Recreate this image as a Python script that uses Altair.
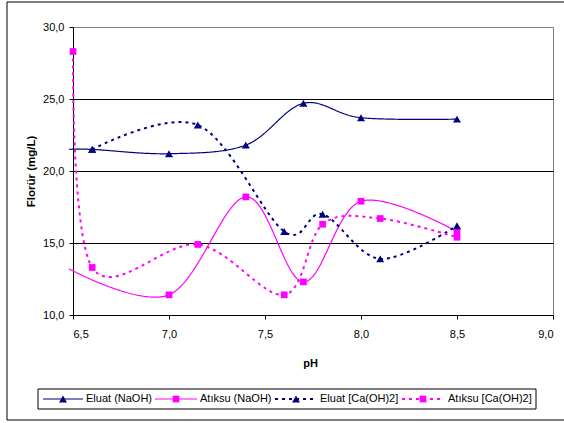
import altair as alt
import pandas as pd

# ---- data ----
series_names = ["Eluat (NaOH)", "Atıksu (NaOH)", "Eluat [Ca(OH)2]", "Atıksu [Ca(OH)2]"]

ph_eluat_naoh = [6.48, 6.6, 7.0, 7.4, 7.7, 8.0, 8.5]
eluat_naoh = [21.5, 21.5, 21.2, 21.8, 24.7, 23.7, 23.6]
mark_eluat_naoh = [False, True, True, True, True, True, True]

ph_atiksu_naoh = [6.48, 7.0, 7.4, 7.7, 8.0, 8.5]
atiksu_naoh = [13.2, 11.4, 18.2, 12.3, 17.9, 15.8]
mark_atiksu_naoh = [False, True, True, True, True, True]

ph_eluat_ca = [6.6, 7.15, 7.6, 7.8, 8.1, 8.5]
eluat_ca = [21.5, 23.2, 15.8, 17.0, 13.9, 16.2]
mark_eluat_ca = [True, True, True, True, True, True]

ph_atiksu_ca = [6.5, 6.6, 7.15, 7.6, 7.8, 8.1, 8.5]
atiksu_ca = [28.3, 13.3, 14.9, 11.4, 16.3, 16.7, 15.4]
mark_atiksu_ca = [True, True, True, True, True, True, True]

x_ticks = [6.5, 7.0, 7.5, 8.0, 8.5, 9.0]
y_ticks = [10, 15, 20, 25, 30]

colors = ["#000080", "#FF00FF", "#000080", "#FF00FF"]
dashes = [[1, 0], [1, 0], [3, 4], [3, 4]]
widths = [1.2, 1.2, 2, 2]
shapes = ["triangle-up", "square", "triangle-up", "square"]
sizes = [64, 45, 64, 45]

rows = []
for name, phs, vals, marks in zip(
    series_names,
    [ph_eluat_naoh, ph_atiksu_naoh, ph_eluat_ca, ph_atiksu_ca],
    [eluat_naoh, atiksu_naoh, eluat_ca, atiksu_ca],
    [mark_eluat_naoh, mark_atiksu_naoh, mark_eluat_ca, mark_atiksu_ca],
):
    for p, v, m in zip(phs, vals, marks):
        rows.append({"series": name, "ph": p, "value": v, "marker": m})
df = pd.DataFrame(rows)

FONT = "Liberation Sans"
W, H = 480, 288
LEFT, TOP = 73, 27

lab_expr = "replace(format(datum.value, '.1f'), '.', ',')"

xenc = alt.X(
    "ph:Q",
    scale=alt.Scale(domain=[6.5, 9.0], nice=False, zero=False),
    axis=alt.Axis(
        values=x_ticks, labelExpr=lab_expr, title="pH", grid=False,
        tickSize=4, labelPadding=9, domainColor="black", tickColor="black",
        labelFont=FONT, labelFontSize=11, labelColor="black",
        titleFont=FONT, titleFontSize=11, titleFontWeight="bold", titleColor="black",
        titleX=237, titleY=48, titleBaseline="middle", titleAlign="center",
    ),
)
yenc = alt.Y(
    "value:Q",
    scale=alt.Scale(domain=[10, 30], nice=False, zero=False),
    axis=alt.Axis(
        values=y_ticks, labelExpr=lab_expr, title="Florür (mg/L)", grid=True,
        gridColor={"expr": "datum.value == 30 ? '#808080' : 'black'"},
        gridWidth=1, tickSize=4, labelPadding=5, domainColor="black", tickColor="black",
        labelFont=FONT, labelFontSize=11, labelColor="black",
        titleFont=FONT, titleFontSize=11.5, titleFontWeight="bold", titleColor="black",
        titleX=-42, titleY=144, titleAngle=-90, titleBaseline="middle", titleAlign="center",
    ),
)

lines = alt.Chart(df).mark_line(interpolate="cardinal", tension=0).encode(
    x=xenc,
    y=yenc,
    color=alt.Color("series:N", scale=alt.Scale(domain=series_names, range=colors), legend=None),
    strokeDash=alt.StrokeDash("series:N", scale=alt.Scale(type="ordinal", domain=series_names, range=dashes), legend=None),
    strokeWidth=alt.StrokeWidth("series:N", scale=alt.Scale(type="ordinal", domain=series_names, range=widths), legend=None),
    order="ph:Q",
)

points = alt.Chart(df).transform_filter("datum.marker").mark_point(filled=True, opacity=1).encode(
    x="ph:Q",
    y="value:Q",
    color=alt.Color("series:N", scale=alt.Scale(domain=series_names, range=colors), legend=None),
    shape=alt.Shape("series:N", scale=alt.Scale(domain=series_names, range=shapes), legend=None),
    size=alt.Size("series:N", scale=alt.Scale(type="ordinal", domain=series_names, range=sizes), legend=None),
)

one = pd.DataFrame({"k": [0]})

frame = alt.Chart(one).mark_rect(fillOpacity=0, stroke="black", strokeWidth=1).encode(
    x=alt.value(7 - LEFT), x2=alt.value(566 - LEFT), y=alt.value(2 - TOP), y2=alt.value(420 - TOP)
)

leg_box = alt.Chart(one).mark_rect(fill="white", stroke="black", strokeWidth=1).encode(
    x=alt.value(38 - LEFT), x2=alt.value(536 - LEFT), y=alt.value(389 - TOP), y2=alt.value(409 - TOP)
)

leg_y = 399 - TOP
leg_layers = []
leg_pos = [(43, 83, 63, 86), (155, 197, 176, 200), (275, 317, 296, 320), (402, 444, 423, 448)]
for i, name in enumerate(series_names):
    x0, x1, xm, xt = leg_pos[i]
    d = pd.DataFrame({"label": [name]})
    leg_layers.append(
        alt.Chart(d).mark_rule(color=colors[i], strokeWidth=widths[i], strokeDash=dashes[i]).encode(
            x=alt.value(x0 - LEFT), x2=alt.value(x1 - LEFT), y=alt.value(leg_y)
        )
    )
    leg_layers.append(
        alt.Chart(d).mark_point(filled=True, opacity=1, shape=shapes[i], color=colors[i],
                                size=sizes[i]).encode(
            x=alt.value(xm - LEFT), y=alt.value(leg_y)
        )
    )
    leg_layers.append(
        alt.Chart(d).mark_text(align="left", baseline="middle", font=FONT, fontSize=11, color="black").encode(
            x=alt.value(xt - LEFT), y=alt.value(leg_y), text="label:N"
        )
    )

chart = alt.layer(frame, lines, points, leg_box, *leg_layers).properties(
    width=W, height=H,
    autosize=alt.AutoSizeParams(type="none"),
    padding={"left": LEFT, "top": TOP, "right": 564 - LEFT - W, "bottom": 423 - TOP - H},
    background="white",
).configure_view(stroke="#808080", strokeWidth=1)

chart.save("out.html", embed_options={"renderer": "svg", "actions": False})
